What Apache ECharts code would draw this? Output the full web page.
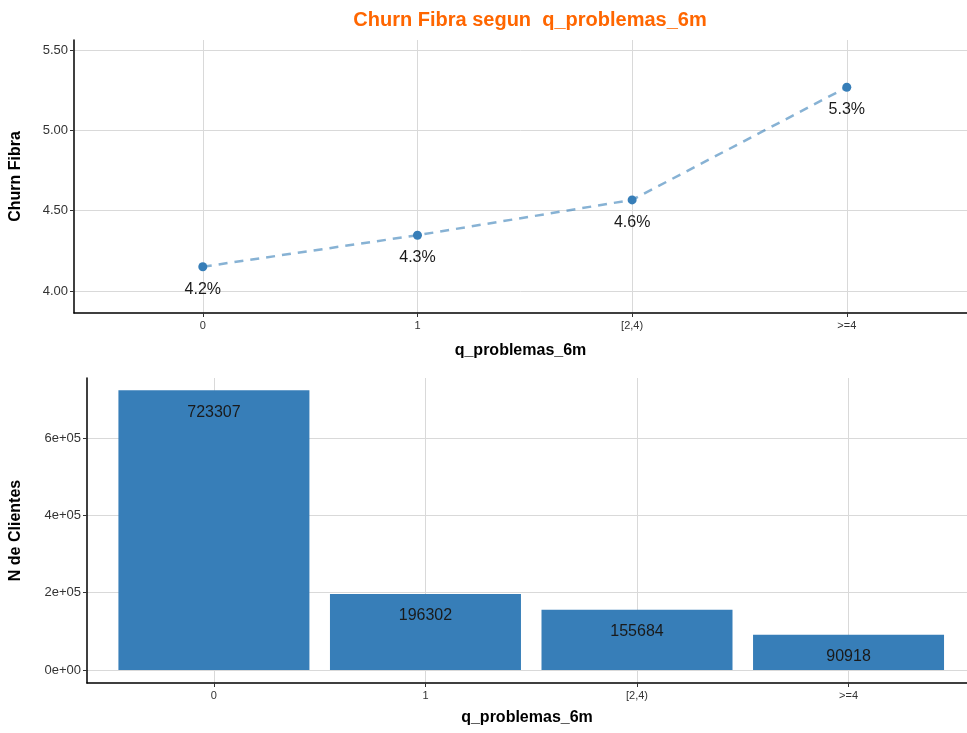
<!DOCTYPE html>
<html>
<head>
<meta charset="utf-8">
<script src="https://cdn.jsdelivr.net/npm/echarts@6/dist/echarts.min.js"></script>
<style>
html,body{margin:0;padding:0;background:#fff;}
#chart{width:967px;height:733px;}
</style>
</head>
<body>
<div id="chart"></div>
<script>
const categories = ['0', '1', '[2,4)', '>=4'];
const churnValues = [4.151, 4.347, 4.567, 5.268];
const clientCounts = [723307, 196302, 155684, 90918];
const churnTicks = [4.0, 4.5, 5.0, 5.5];
const countTicks = [0, 200000, 400000, 600000];
const catIndex = categories.map((c, i) => i);

const FONT = '"Liberation Sans", Arial, sans-serif';
const BLUE = '#377EB8';
const GRID = '#d9d9d9';

function expLabel(v) {
  if (v === 0) return '0e+00';
  const e = Math.floor(Math.log10(Math.abs(v)) + 1e-9);
  const m = Math.round(v / Math.pow(10, e));
  return m + 'e+' + (e < 10 ? '0' + e : e);
}

const chart = echarts.init(document.getElementById('chart'), null, {renderer: 'canvas'});

const xAxisCommon = (gridIndex, gap) => ({
  type: 'value',
  gridIndex: gridIndex,
  min: -0.6,
  max: 3.56,
  name: 'q_problemas_6m',
  nameLocation: 'middle',
  nameGap: gap,
  nameTextStyle: {fontFamily: FONT, fontSize: 16, fontWeight: 'bold', color: '#000'},
  axisLine: {show: true, onZero: false, lineStyle: {color: '#000', width: 1.5}},
  axisTick: {show: true, length: 4, customValues: catIndex, lineStyle: {color: '#333'}},
  axisLabel: {customValues: catIndex, formatter: v => categories[Math.round(v)] ?? '', fontFamily: FONT, fontSize: 11, color: '#333', margin: 7},
  splitLine: {show: true, lineStyle: {color: GRID, width: 1}}
});

const yAxisCommon = (gridIndex, min, max, name, gap, ticks, fmt) => ({
  type: 'value', gridIndex: gridIndex, min: min, max: max,
  name: name, nameLocation: 'middle', nameGap: gap,
  nameTextStyle: {fontFamily: FONT, fontSize: 16, fontWeight: 'bold', color: '#000'},
  axisLine: {show: true, onZero: false, lineStyle: {color: '#000', width: 1.5}},
  axisTick: {show: true, length: 4, customValues: ticks, lineStyle: {color: '#333'}},
  axisLabel: {customValues: ticks, formatter: fmt, fontFamily: FONT, fontSize: 13, color: '#333', margin: 6},
  splitLine: {show: true, lineStyle: {color: GRID, width: 1}}
});

const option = {
  animation: false,
  backgroundColor: '#fff',
  title: {
    text: 'Churn Fibra segun  q_problemas_6m',
    left: 525,
    top: 5,
    textAlign: 'center',
    textStyle: {fontFamily: FONT, fontSize: 20, fontWeight: 'bold', color: '#FF6600'}
  },
  grid: [
    {left: 71, right: 0, top: 40, height: 273},
    {left: 84, right: 0, top: 378, height: 305}
  ],
  xAxis: [xAxisCommon(0, 30), xAxisCommon(1, 27)],
  yAxis: [
    yAxisCommon(0, 3.863, 5.562, 'Churn Fibra', 50, churnTicks, v => v.toFixed(2)),
    yAxisCommon(1, -33600, 755000, 'N de Clientes', 63, countTicks, v => expLabel(v))
  ],
  series: [
    {
      type: 'line',
      xAxisIndex: 0, yAxisIndex: 0,
      data: churnValues.map((v, i) => [catIndex[i], v]),
      symbol: 'circle',
      symbolSize: 9,
      itemStyle: {color: BLUE},
      lineStyle: {color: 'rgba(55,126,184,0.6)', width: 2.5, type: [9, 7]},
      label: {
        show: true, position: 'bottom', distance: 10,
        formatter: p => p.value[1].toFixed(1) + '%',
        fontFamily: FONT, fontSize: 16, color: '#1a1a1a'
      },
      z: 3
    },
    {
      type: 'bar',
      xAxisIndex: 1, yAxisIndex: 1,
      data: clientCounts.map((v, i) => [catIndex[i], v]),
      barWidth: 191,
      itemStyle: {color: BLUE},
      label: {
        show: true, position: 'insideTop', distance: 14,
        formatter: p => String(p.value[1]),
        fontFamily: FONT, fontSize: 16, color: '#1a1a1a'
      }
    }
  ]
};
chart.setOption(option);
</script>
</body>
</html>
